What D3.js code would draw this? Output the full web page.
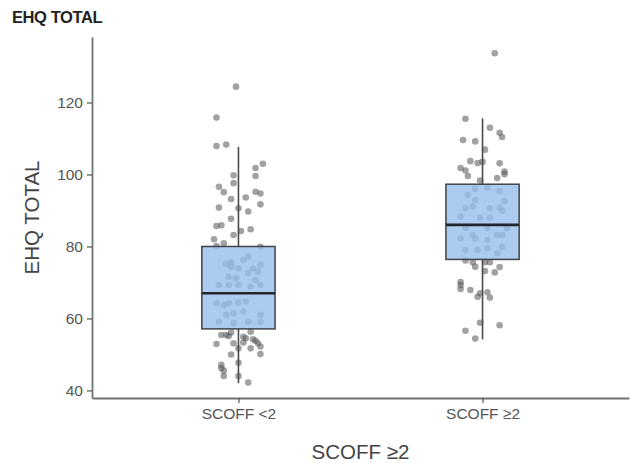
<!DOCTYPE html>
<html>
<head>
<meta charset="utf-8">
<script src="https://cdn.jsdelivr.net/npm/d3@7"></script>
<style>
  body { margin: 0; background: #fff; }
  svg { display: block; font-family: "Liberation Sans", Arial, sans-serif; }
</style>
</head>
<body>
<div id="chart"></div>
<script>
// categories and tick labels
const groups = ['SCOFF <2', 'SCOFF \u22652']
const yTicks = [40, 60, 80, 100, 120]

// box statistics per group
const whiskerLow = [42.0, 54.2]
const q1 = [57.1, 76.4]
const median = [67.0, 86.0]
const q3 = [80.0, 97.3]
const whiskerHigh = [107.7, 115.6]

// jittered observations (value, horizontal jitter in category units)
const lowValues = [124.4, 115.8, 107.9, 108.3, 103.0, 101.8, 99.8, 99.6, 97.6, 96.6,
  95.1, 95.2, 94.7, 93.2, 93.6, 91.7, 90.8, 90.6, 89.7, 87.7,
  85.7, 85.9, 84.8, 84.3, 83.2, 82.0, 80.9, 80.1, 79.9, 75.1,
  75.6, 74.4, 73.9, 76.2, 77.2, 73.9, 74.9, 73.0, 72.6, 71.6,
  71.2, 70.7, 69.3, 69.3, 69.3, 68.8, 69.3, 64.2, 63.7, 64.2,
  64.4, 64.7, 61.0, 61.4, 61.9, 61.0, 59.1, 58.7, 59.1, 59.1,
  55.4, 55.4, 55.1, 56.1, 54.9, 54.5, 56.3, 54.2, 53.8, 53.1,
  52.9, 53.1, 53.3, 51.7, 52.2, 51.7, 50.1, 50.0, 47.7, 47.1,
  46.2, 45.5, 44.0, 44.0, 42.2]
const lowJitter = [-0.01, -0.09, -0.09, -0.05, 0.10, 0.07, -0.02, 0.07, -0.02, -0.08,
  -0.06, 0.07, 0.09, -0.03, 0.03, 0.09, -0.08, 0.00, 0.04, -0.03,
  -0.09, -0.07, 0.05, 0.01, -0.02, -0.10, -0.06, -0.09, 0.09, -0.05,
  -0.03, -0.03, 0.00, 0.02, 0.04, 0.06, 0.09, 0.08, 0.04, -0.04,
  -0.01, 0.07, -0.08, -0.04, 0.00, 0.05, 0.09, -0.09, -0.06, -0.04,
  0.00, 0.03, -0.05, -0.02, 0.02, 0.09, -0.08, -0.02, 0.04, 0.09,
  -0.07, -0.05, -0.04, -0.03, 0.02, 0.03, 0.05, 0.06, 0.07, 0.08,
  -0.09, -0.02, 0.02, 0.05, 0.09, 0.00, 0.09, -0.03, 0.00, -0.07,
  -0.07, -0.06, -0.06, 0.00, 0.04]

const highValues = [133.7, 115.5, 113.0, 111.6, 110.4, 109.6, 109.2, 106.9, 103.7, 103.2,
  103.5, 103.1, 101.8, 101.1, 99.6, 100.8, 100.1, 99.0, 98.3, 96.0,
  96.3, 95.4, 94.3, 92.9, 92.6, 90.6, 91.1, 90.6, 90.8, 89.9,
  88.3, 88.0, 88.0, 85.2, 85.1, 85.1, 82.3, 83.2, 82.3, 81.8,
  83.2, 83.2, 79.9, 79.0, 79.0, 79.5, 78.1, 76.1, 75.6, 74.4,
  75.6, 75.6, 74.3, 72.8, 73.2, 70.1, 69.3, 68.2, 67.9, 67.0,
  67.3, 66.0, 65.8, 58.8, 58.1, 56.6, 54.4]
const highJitter = [0.05, -0.07, 0.03, 0.07, 0.08, -0.08, -0.03, 0.01, -0.05, -0.02,
  0.00, 0.07, -0.09, -0.07, -0.06, 0.09, 0.09, 0.06, -0.01, -0.03,
  0.02, 0.07, -0.06, -0.03, 0.09, -0.07, -0.04, 0.03, 0.07, 0.08,
  -0.09, -0.01, 0.03, -0.07, 0.02, 0.10, -0.09, -0.04, -0.03, 0.02,
  0.06, 0.08, 0.08, -0.07, -0.02, 0.02, 0.06, -0.07, -0.04, -0.03,
  0.01, 0.03, 0.07, 0.05, 0.01, -0.09, -0.09, -0.09, -0.05, -0.01,
  0.02, -0.02, 0.03, -0.01, 0.07, -0.07, -0.03]

var width = 631
var height = 463
var margin = { top: 37, right: 2, bottom: 65, left: 92 }

var svg = d3.select('#chart').append('svg')
  .attr('width', width)
  .attr('height', height)

var x = d3.scalePoint()
  .domain(groups)
  .range([margin.left, width - margin.right])
  .padding(0.6)

var y = d3.scaleLinear()
  .domain([37.9, 138.2])
  .range([height - margin.bottom, margin.top])

var step = x.step()

var points = []
lowValues.forEach((v, i) => points.push({ g: groups[0], v: v, j: lowJitter[i] }))
highValues.forEach((v, i) => points.push({ g: groups[1], v: v, j: highJitter[i] }))

var boxes = groups.map((g, i) => ({
  g: g, lo: whiskerLow[i], q1: q1[i], med: median[i], q3: q3[i], hi: whiskerHigh[i]
}))

// jittered points go under the boxes
svg.append('g')
  .selectAll('circle')
  .data(points)
  .enter()
  .append('circle')
  .attr('cx', d => x(d.g) + d.j * step)
  .attr('cy', d => y(d.v))
  .attr('r', 3.3)
  .attr('fill', '#555')
  .attr('fill-opacity', 0.55)

var box = svg.append('g')
  .selectAll('g')
  .data(boxes)
  .enter()
  .append('g')

box.append('line')
  .attr('x1', d => x(d.g))
  .attr('x2', d => x(d.g))
  .attr('y1', d => y(d.hi))
  .attr('y2', d => y(d.q3))
  .attr('stroke', '#4a4a4a')
  .attr('stroke-width', 1.6)

box.append('line')
  .attr('x1', d => x(d.g))
  .attr('x2', d => x(d.g))
  .attr('y1', d => y(d.q1))
  .attr('y2', d => y(d.lo))
  .attr('stroke', '#4a4a4a')
  .attr('stroke-width', 1.6)

box.append('rect')
  .attr('x', d => x(d.g) - 0.15 * step)
  .attr('width', 0.3 * step)
  .attr('y', d => y(d.q3))
  .attr('height', d => y(d.q1) - y(d.q3))
  .attr('fill', 'rgb(150,190,236)')
  .attr('fill-opacity', 0.8)
  .attr('stroke', '#404448')
  .attr('stroke-width', 1.5)

box.append('line')
  .attr('x1', d => x(d.g) - 0.15 * step)
  .attr('x2', d => x(d.g) + 0.15 * step)
  .attr('y1', d => y(d.med))
  .attr('y2', d => y(d.med))
  .attr('stroke', '#22262a')
  .attr('stroke-width', 2.6)

// axes
var yAxis = svg.append('g')
  .attr('transform', `translate(${margin.left},0)`)
  .call(d3.axisLeft(y).tickValues(yTicks).tickSize(5).tickSizeOuter(0).tickPadding(4))

var xAxis = svg.append('g')
  .attr('transform', `translate(0,${height - margin.bottom})`)
  .call(d3.axisBottom(x).tickSize(5).tickSizeOuter(0).tickPadding(5))

;[yAxis, xAxis].forEach(a => {
  a.select('.domain').attr('stroke', '#707070').attr('stroke-width', 1.8)
  a.selectAll('.tick line').attr('stroke', '#555').attr('stroke-width', 1.2)
  a.selectAll('.tick text')
    .attr('fill', '#555')
    .style('font-size', '15.5px')
    .style('font-family', '"Liberation Sans", Arial, sans-serif')
})

// titles
svg.append('text')
  .attr('x', 12)
  .attr('y', 23)
  .attr('fill', '#222')
  .style('font', 'bold 16.5px "Liberation Sans", Arial, sans-serif')
  .style('letter-spacing', '-0.4px')
  .text('EHQ TOTAL')

svg.append('text')
  .attr('transform', `translate(39,${(margin.top + height - margin.bottom) / 2}) rotate(-90)`)
  .attr('text-anchor', 'middle')
  .attr('fill', '#444')
  .style('font-size', '20.5px')
  .text('EHQ TOTAL')

svg.append('text')
  .attr('x', (margin.left + width - margin.right) / 2)
  .attr('y', 459)
  .attr('text-anchor', 'middle')
  .attr('fill', '#444')
  .style('font-size', '20.5px')
  .text('SCOFF \u22652')
</script>
</body>
</html>
